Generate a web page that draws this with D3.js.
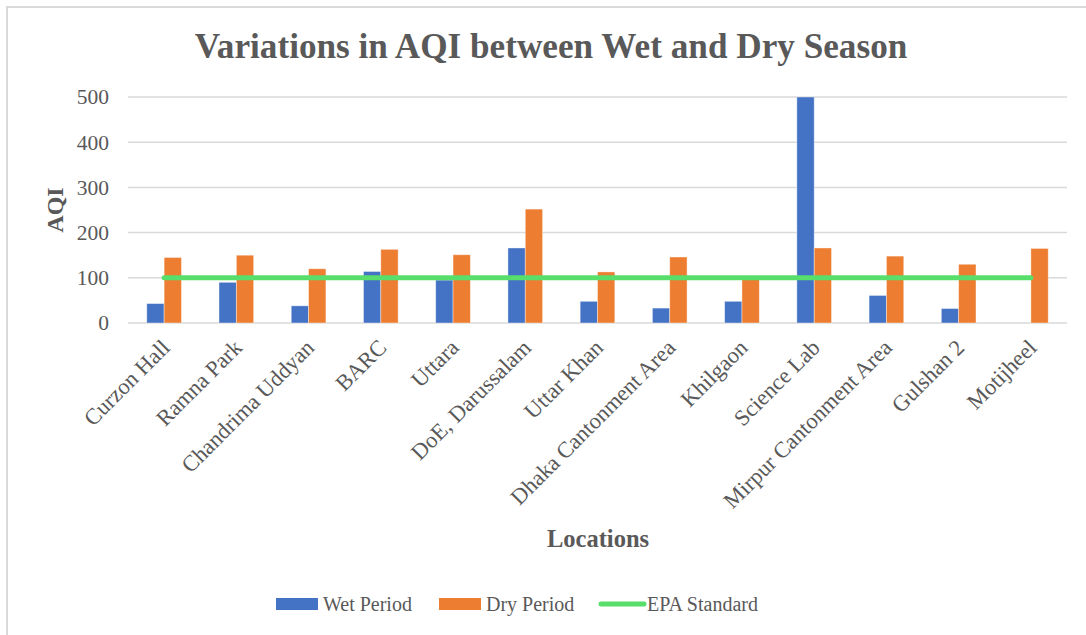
<!DOCTYPE html>
<html><head><meta charset="utf-8">
<script src="https://cdn.jsdelivr.net/npm/d3@7"></script>
<style>body{margin:0;background:#fff}svg{display:block}</style>
</head><body>
<svg id="c" width="1086" height="635"></svg>
<script>
const categories = ["Curzon Hall","Ramna Park","Chandrima Uddyan","BARC","Uttara","DoE, Darussalam","Uttar Khan","Dhaka Cantonment Area","Khilgaon","Science Lab","Mirpur Cantonment Area","Gulshan 2","Motijheel"];
const wetPeriod = [43, 90, 38, 114, 95, 166, 48, 33, 48, 500, 61, 32, 0];
const dryPeriod = [145, 150, 120, 163, 151, 252, 113, 146, 97, 166, 148, 130, 165];
const epaStandard = [100,100,100,100,100,100,100,100,100,100,100,100,100];
const yTicks = [0,100,200,300,400,500];
const seriesNames = ["Wet Period","Dry Period","EPA Standard"];
const colors = {"Wet Period":"#4472C4","Dry Period":"#ED7D31","EPA Standard":"#57DE6B"};

(function(){
const svg = d3.select("#c");
const textCol = "#595959";
const serif = "'Liberation Serif','Times New Roman',serif";

// border
svg.append("rect").attr("x",7).attr("y",7).attr("width",1100).attr("height",650)
  .attr("fill","none").attr("stroke","#d9d9d9").attr("stroke-width",2);

const pL = 128, pR = 1067, pT = 97, pB = 323;
const x = d3.scaleBand().domain(categories).range([pL,pR]).paddingInner(0.52).paddingOuter(0.26);
const xs = d3.scaleBand().domain(["Wet Period","Dry Period"]).range([0,x.bandwidth()]);
const y = d3.scaleLinear().domain([0,500]).range([pB,pT]);

// grid
svg.append("g").selectAll("line").data(yTicks).join("line")
  .attr("x1",pL).attr("x2",pR).attr("y1",d=>y(d)).attr("y2",d=>y(d))
  .attr("stroke","#d9d9d9").attr("stroke-width",1.5);

// y tick labels
const yAxis = d3.axisLeft(y).tickValues(yTicks).tickSize(0).tickPadding(0);
const ga = svg.append("g").attr("transform",`translate(109,0)`).call(yAxis);
ga.select(".domain").remove();
ga.attr("font-family",null).attr("font-size",null);
ga.selectAll("text").attr("fill",textCol).style("font-family",serif).style("font-size","21.5px");

// bars
const groups = svg.append("g").selectAll("g").data(categories).join("g")
  .attr("transform",d=>`translate(${x(d)},0)`);
groups.selectAll("rect").data((d,i)=>[{k:"Wet Period",v:wetPeriod[i]},{k:"Dry Period",v:dryPeriod[i]}]).join("rect")
  .attr("x",d=>xs(d.k)).attr("width",xs.bandwidth())
  .attr("y",d=>y(d.v)).attr("height",d=>pB-y(d.v))
  .attr("fill",d=>colors[d.k]).attr("stroke","#fff").attr("stroke-opacity",0.5).attr("stroke-width",0.8)
  .attr("display",d=>d.v>0?null:"none");

// EPA line
const line = d3.line().x((d,i)=>x(categories[i])+x.bandwidth()/2).y(d=>y(d));
svg.append("path").datum(epaStandard).attr("d",line).attr("fill","none")
  .attr("stroke",colors["EPA Standard"]).attr("stroke-width",5).attr("stroke-linecap","round");

// x labels
const xAxis = d3.axisBottom(x).tickSize(0).tickPadding(0);
const gx = svg.append("g").attr("transform",`translate(0,${pB})`).call(xAxis);
gx.select(".domain").remove();
gx.attr("font-family",null).attr("font-size",null);
gx.selectAll("text").attr("fill",textCol).style("font-family",serif).style("font-size","22.5px")
  .attr("text-anchor","end").attr("dy",null).attr("y",null)
  .attr("transform","translate(7,26) rotate(-45)");

// title
svg.append("text").attr("x",551).attr("y",58).attr("text-anchor","middle")
  .attr("fill",textCol).style("font-family",serif).style("font-weight","bold").style("font-size","35.2px")
  .text("Variations in AQI between Wet and Dry Season");
// axis titles
svg.append("text").attr("transform","translate(63,210) rotate(-90)").attr("text-anchor","middle")
  .attr("fill",textCol).style("font-family",serif).style("font-weight","bold").style("font-size","24px").text("AQI");
svg.append("text").attr("x",598).attr("y",547).attr("text-anchor","middle")
  .attr("fill",textCol).style("font-family",serif).style("font-weight","bold").style("font-size","24.5px").text("Locations");

// legend
const legendX = [276, 439, 599];
const lg = svg.append("g").selectAll("g").data(seriesNames).join("g")
  .attr("transform",(d,i)=>`translate(${legendX[i]},604)`);
lg.filter(d=>d!=="EPA Standard").append("rect").attr("x",0).attr("y",-6).attr("width",42).attr("height",12).attr("fill",d=>colors[d]);
lg.filter(d=>d==="EPA Standard").append("line").attr("x1",2).attr("x2",45).attr("y1",0).attr("y2",0)
  .attr("stroke",d=>colors[d]).attr("stroke-width",5).attr("stroke-linecap","round");
lg.append("text").attr("x",d=>d==="EPA Standard"?48:47).attr("y",7)
  .attr("fill",textCol).style("font-family",serif).style("font-size","20px").text(d=>d);
})();
</script>
</body></html>
